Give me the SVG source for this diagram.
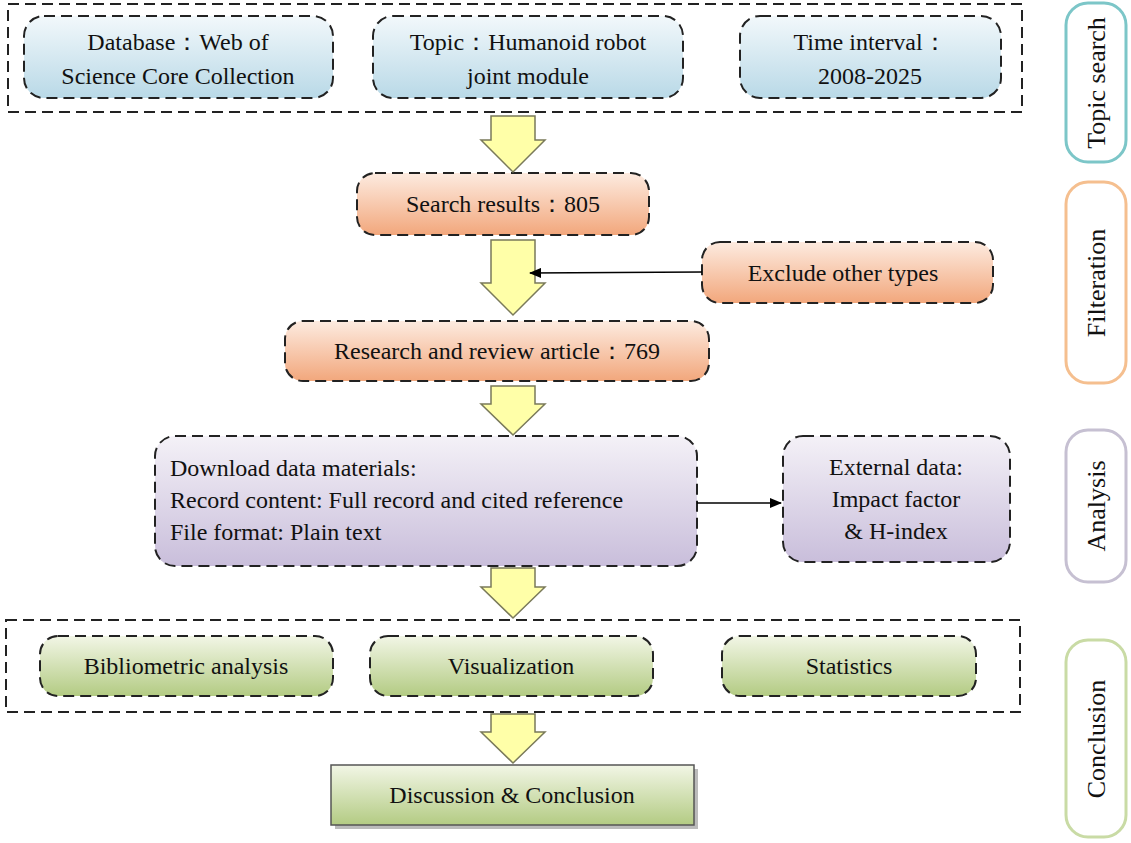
<svg xmlns="http://www.w3.org/2000/svg" width="1131" height="843" viewBox="0 0 1131 843">
<style>
text{font-family:"Liberation Serif",serif;font-size:24px;fill:#111}
.c{text-anchor:middle}
.d{stroke:#222;stroke-width:2;stroke-dasharray:11 6}
.fr{fill:none}
.ar{fill:#ffffa8;stroke:#7a7a5a;stroke-width:1.5}
.side{fill:#fff;stroke-width:3}
.side-t{font-size:26px}
</style>
<defs>
<linearGradient id="gb" x1="0" y1="0" x2="0" y2="1"><stop offset="0" stop-color="#f2f8fb"/><stop offset="1" stop-color="#b9d9e7"/></linearGradient>
<linearGradient id="go" x1="0" y1="0" x2="0" y2="1"><stop offset="0" stop-color="#fdebe0"/><stop offset="1" stop-color="#f2a77c"/></linearGradient>
<linearGradient id="gp" x1="0" y1="0" x2="0" y2="1"><stop offset="0" stop-color="#f4f1f7"/><stop offset="1" stop-color="#c9bedb"/></linearGradient>
<linearGradient id="gg" x1="0" y1="0" x2="0" y2="1"><stop offset="0" stop-color="#f2f6e6"/><stop offset="1" stop-color="#b3cb83"/></linearGradient>
<marker id="m" markerWidth="12" markerHeight="10" refX="11" refY="5" orient="auto" markerUnits="userSpaceOnUse"><path d="M0,0 L12,5 L0,10 Z" fill="#000"/></marker>
</defs>

<g id="frames">
<rect class="d fr" x="8" y="4" width="1014" height="108"/>
<rect class="d fr" x="6" y="620" width="1014" height="92"/>
</g>

<g id="n-db"><rect class="d" x="24" y="16" width="309" height="82" rx="20" fill="url(#gb)"/><text class="c" x="178" y="50">Database：Web of</text><text class="c" x="178" y="84">Science Core Collection</text></g>
<g id="n-topic"><rect class="d" x="373" y="16" width="310" height="82" rx="20" fill="url(#gb)"/><text class="c" x="528" y="50">Topic：Humanoid robot</text><text class="c" x="528" y="84">joint module</text></g>
<g id="n-time"><rect class="d" x="740" y="16" width="261" height="82" rx="20" fill="url(#gb)"/><text class="c" x="870" y="50">Time interval：</text><text class="c" x="870" y="84">2008-2025</text></g>

<g id="n-search"><rect class="d" x="357" y="173" width="292" height="62" rx="18" fill="url(#go)"/><text class="c" x="503" y="212">Search results：805</text></g>
<g id="n-exclude"><rect class="d" x="702" y="242" width="291" height="61" rx="18" fill="url(#go)"/><text class="c" x="843" y="281">Exclude other types</text></g>
<g id="n-research"><rect class="d" x="285" y="321" width="424" height="60" rx="18" fill="url(#go)"/><text class="c" x="497" y="359">Research and review article：769</text></g>

<g id="n-download"><rect class="d" x="155" y="436" width="542" height="130" rx="20" fill="url(#gp)"/><text x="170" y="476">Download data materials:</text><text x="170" y="508">Record content: Full record and cited reference</text><text x="170" y="540">File format: Plain text</text></g>
<g id="n-external"><rect class="d" x="783" y="436" width="227" height="126" rx="20" fill="url(#gp)"/><text class="c" x="896" y="475">External data:</text><text class="c" x="896" y="507">Impact factor</text><text class="c" x="896" y="539">&amp; H-index</text></g>

<g id="n-biblio"><rect class="d" x="40" y="636" width="293" height="60" rx="18" fill="url(#gg)"/><text class="c" x="186" y="674">Bibliometric analysis</text></g>
<g id="n-vis"><rect class="d" x="370" y="636" width="283" height="60" rx="18" fill="url(#gg)"/><text class="c" x="511" y="674">Visualization</text></g>
<g id="n-stat"><rect class="d" x="722" y="636" width="254" height="60" rx="18" fill="url(#gg)"/><text class="c" x="849" y="674">Statistics</text></g>

<g id="n-final"><rect x="335" y="769" width="363" height="60" fill="#bbb"/><rect x="331" y="765" width="363" height="60" fill="url(#gg)" stroke="#555" stroke-width="1.5"/><text class="c" x="512" y="803">Discussion &amp; Conclusion</text></g>

<g id="connectors">
<path class="ar" d="M491,116 H535 V140 H545 L513,172 L481,140 H491 Z"/>
<path class="ar" d="M491,240 H535 V283 H545 L513,315 L481,283 H491 Z"/>
<path class="ar" d="M491,386 H535 V404 H545 L513,435 L481,404 H491 Z"/>
<path class="ar" d="M491,568 H535 V587 H545 L513,618 L481,587 H491 Z"/>
<path class="ar" d="M491,714 H535 V732 H545 L513,763 L481,732 H491 Z"/>
<line x1="702" y1="272" x2="530" y2="273" stroke="#000" stroke-width="1.5" marker-end="url(#m)"/>
<line x1="697" y1="503" x2="781" y2="503" stroke="#000" stroke-width="1.5" marker-end="url(#m)"/>
</g>

<g id="side-topic"><rect class="side" x="1066" y="3" width="60" height="159" rx="22" stroke="#7cc6c8"/><text class="c side-t" transform="translate(1105,83) rotate(-90)">Topic search</text></g>
<g id="side-filter"><rect class="side" x="1066" y="182" width="60" height="201" rx="22" stroke="#f5bf8f"/><text class="c side-t" transform="translate(1105,283) rotate(-90)">Filteration</text></g>
<g id="side-analysis"><rect class="side" x="1066" y="430" width="60" height="152" rx="22" stroke="#c6c0d2"/><text class="c side-t" transform="translate(1105,506) rotate(-90)">Analysis</text></g>
<g id="side-concl"><rect class="side" x="1066" y="640" width="60" height="197" rx="22" stroke="#c9dba5"/><text class="c side-t" transform="translate(1105,739) rotate(-90)">Conclusion</text></g>
</svg>
